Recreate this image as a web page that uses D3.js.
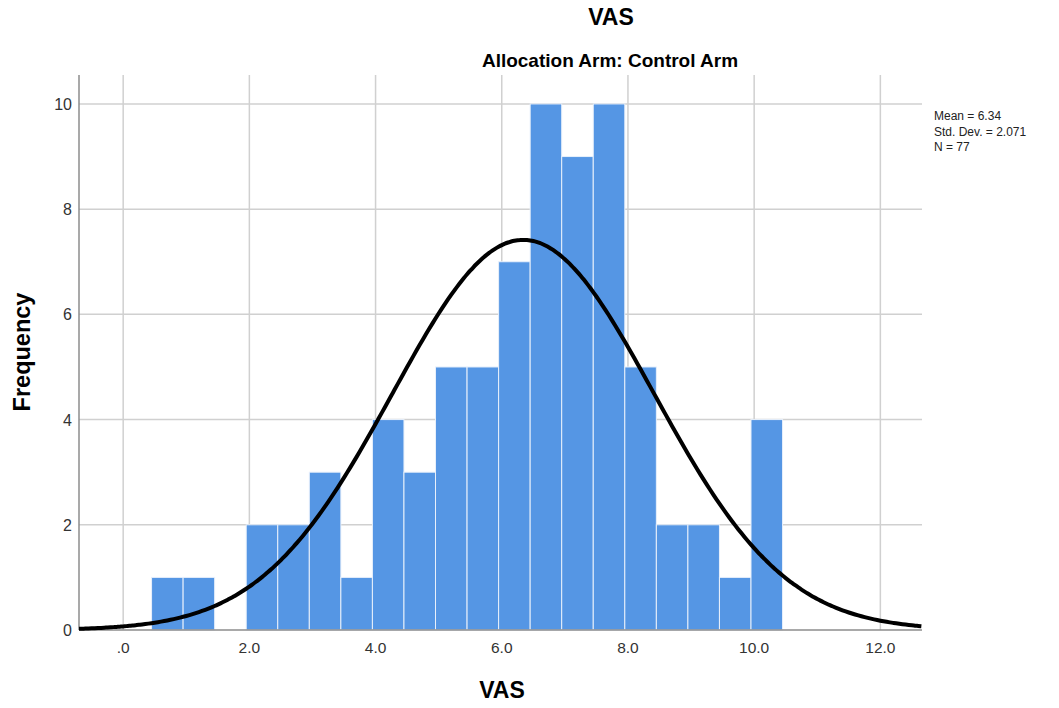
<!DOCTYPE html>
<html>
<head>
<meta charset="utf-8">
<script src="https://cdn.jsdelivr.net/npm/d3@7"></script>
<style>
  body { margin: 0; background: #fff; }
  svg { font-family: Arial, "Liberation Sans", sans-serif; }
</style>
</head>
<body>
<div id="chart"></div>
<script>
// histogram bins (lower edge) and counts
const binStarts = [0.45, 0.95, 1.45, 1.95, 2.45, 2.95, 3.45, 3.95, 4.45, 4.95, 5.45, 5.95, 6.45, 6.95, 7.45, 7.95, 8.45, 8.95, 9.45, 9.95];
const counts = [1, 1, 0, 2, 2, 3, 1, 4, 3, 5, 5, 7, 10, 9, 10, 5, 2, 2, 1, 4];
const binWidth = 0.5;
const xTicks = [0, 2, 4, 6, 8, 10, 12];
const yTicks = [0, 2, 4, 6, 8, 10];
const stats = { mean: 6.34, sd: 2.071, n: 77 };

const W = 1059, H = 708;
const margin = { top: 75, right: 137, bottom: 78, left: 79 };
const width = W - margin.left - margin.right;
const height = H - margin.top - margin.bottom;

const svg = d3.select('#chart').append('svg')
    .attr('width', W).attr('height', H);

const g = svg.append('g')
    .attr('transform', `translate(${margin.left},${margin.top})`);

const x = d3.scaleLinear().domain([-0.7, 12.66]).range([0, width]);
const y = d3.scaleLinear().domain([0, 10.55]).range([height, 0]);

// grid lines
g.selectAll('.vgrid').data(xTicks).join('line')
    .attr('x1', d => x(d)).attr('x2', d => x(d))
    .attr('y1', 0).attr('y2', height)
    .attr('stroke', '#d0d0d0').attr('stroke-width', 1.5);
g.selectAll('.hgrid').data(yTicks.filter(d => d > 0)).join('line')
    .attr('x1', 0).attr('x2', width)
    .attr('y1', d => y(d)).attr('y2', d => y(d))
    .attr('stroke', '#d0d0d0').attr('stroke-width', 1.5);

// bars
g.selectAll('rect.bar').data(binStarts.map((s, i) => ({ s, c: counts[i] })).filter(d => d.c > 0))
    .join('rect')
    .attr('class', 'bar')
    .attr('x', d => x(d.s))
    .attr('width', d => x(d.s + binWidth) - x(d.s))
    .attr('y', d => y(d.c))
    .attr('height', d => y(0) - y(d.c))
    .attr('fill', '#5596e4')
    .attr('stroke', '#e8f0fb')
    .attr('stroke-width', 1);

// axes lines
g.append('line').attr('x1', 0).attr('x2', width).attr('y1', height).attr('y2', height)
    .attr('stroke', '#8c8c8c').attr('stroke-width', 1.5);
g.append('line').attr('x1', 0).attr('x2', 0).attr('y1', 0).attr('y2', height)
    .attr('stroke', '#8c8c8c').attr('stroke-width', 1.5);

// normal curve
const xs = d3.range(-0.7, 12.66 + 0.001, 0.05);
const scaleK = stats.n * binWidth / (stats.sd * Math.sqrt(2 * Math.PI));
const curve = xs.map(v => [v, scaleK * Math.exp(-0.5 * Math.pow((v - stats.mean) / stats.sd, 2))]);
g.append('path')
    .datum(curve)
    .attr('fill', 'none')
    .attr('stroke', '#000')
    .attr('stroke-width', 4)
    .attr('d', d3.line().x(d => x(d[0])).y(d => y(d[1])).curve(d3.curveBasis));

// tick labels
g.selectAll('.xlab').data(xTicks).join('text')
    .attr('x', d => x(d)).attr('y', height + 23)
    .attr('text-anchor', 'middle')
    .attr('font-size', 15.5).attr('fill', '#333')
    .text(d => d === 0 ? '.0' : d.toFixed(1));
g.selectAll('.ylab').data(yTicks).join('text')
    .attr('x', -7).attr('y', d => y(d) + 6)
    .attr('text-anchor', 'end')
    .attr('font-size', 16).attr('fill', '#333')
    .text(d => d);

// titles
svg.append('text').attr('x', 611).attr('y', 25)
    .attr('text-anchor', 'middle').attr('font-size', 23).attr('font-weight', 'bold')
    .text('VAS');
svg.append('text').attr('x', 610).attr('y', 67)
    .attr('text-anchor', 'middle').attr('font-size', 19).attr('font-weight', 'bold')
    .text('Allocation Arm: Control Arm');
svg.append('text').attr('x', 502).attr('y', 698)
    .attr('text-anchor', 'middle').attr('font-size', 23).attr('font-weight', 'bold')
    .text('VAS');
svg.append('text')
    .attr('transform', 'translate(30,352) rotate(-90)')
    .attr('text-anchor', 'middle').attr('font-size', 23.5).attr('font-weight', 'bold')
    .text('Frequency');

// stats legend
const legendLines = [`Mean = ${stats.mean}`, `Std. Dev. = ${stats.sd}`, `N = ${stats.n}`];
svg.selectAll('.leg').data(legendLines).join('text')
    .attr('x', 934).attr('y', (d, i) => 120 + i * 15.5)
    .attr('font-size', 12).attr('fill', '#222')
    .text(d => d);
</script>
</body>
</html>
